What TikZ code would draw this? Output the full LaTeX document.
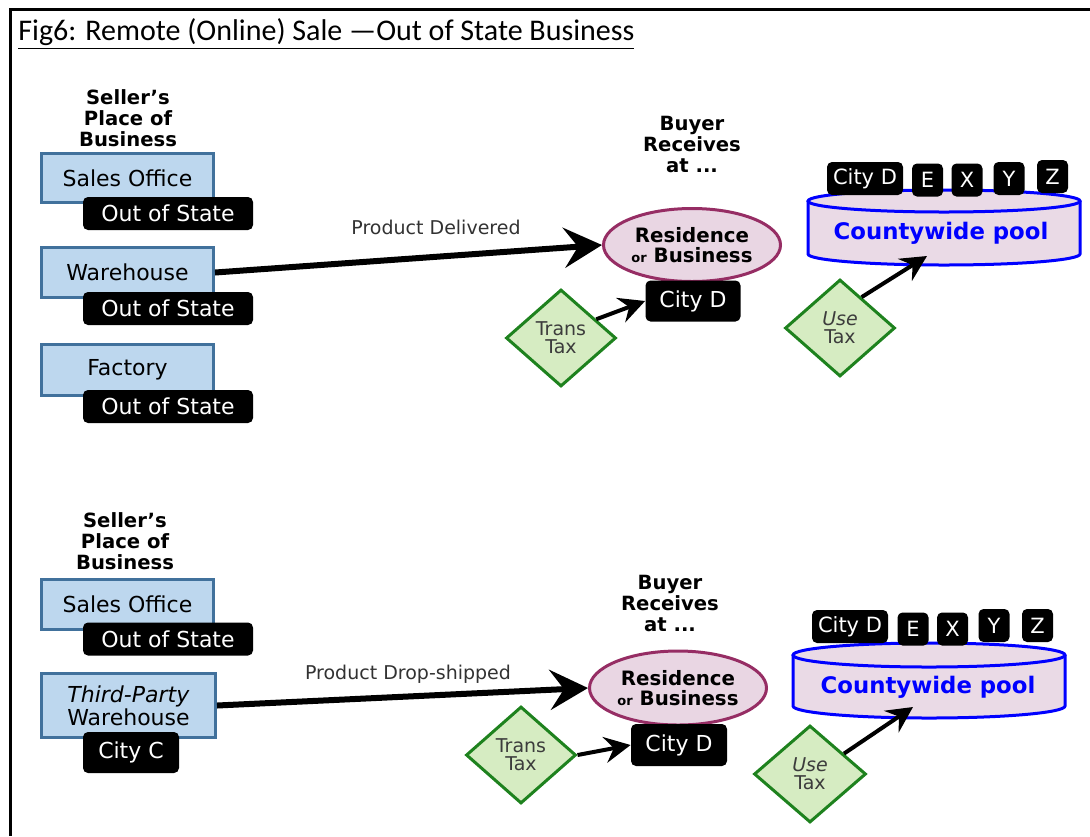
\documentclass[tikz,border=0pt]{standalone}
\usepackage{fontspec}
\setmainfont{DejaVu Sans}
\newfontfamily\titlefont{Carlito}
\usetikzlibrary{shapes.geometric,arrows.meta}

\definecolor{placefill}{RGB}{189,215,238}
\definecolor{placeline}{RGB}{65,113,156}
\definecolor{homefill}{RGB}{233,214,227}
\definecolor{homeline}{RGB}{150,45,100}
\definecolor{taxfill}{RGB}{214,236,194}
\definecolor{taxline}{RGB}{30,130,30}
\definecolor{taxtext}{RGB}{60,60,60}
\definecolor{poolfill}{RGB}{234,218,230}
\definecolor{poolline}{RGB}{0,0,255}
\definecolor{flowtext}{RGB}{50,50,50}

\tikzset{
  place/.style={draw=placeline, fill=placefill, line width=1.5pt, minimum width=86pt,
    minimum height=24.5pt, inner sep=0pt, align=center, font=\fontsize{11}{11.5}\selectfont},
  tag/.style={fill=black, text=white, rounded corners=2.5pt, inner sep=0pt,
    minimum height=16.5pt, font=\fontsize{11}{12}\selectfont},
  citytag/.style={tag, minimum width=15.5pt, minimum height=16.5pt, font=\fontsize{10.5}{12}\selectfont},
  heading/.style={align=center, font=\bfseries\fontsize{9.8}{10.5}\selectfont},
  home/.style={ellipse, draw=homeline, fill=homefill, line width=1.5pt, minimum width=88.5pt,
    minimum height=36.5pt, inner sep=0pt, align=center, font=\bfseries\fontsize{9.9}{10}\selectfont},
  tax/.style={diamond, draw=taxline, fill=taxfill, line width=1.5pt, minimum width=55pt,
    minimum height=48.5pt, inner sep=0pt, align=center, text=taxtext, font=\fontsize{9.5}{9}\selectfont},
  flow/.style={line width=3pt, -{Stealth[length=19pt, width=20pt, inset=7pt]}},
  levy/.style={line width=2pt, -{Stealth[length=13pt, width=13pt, inset=4.5pt]}},
  flowlabel/.style={text=flowtext, font=\fontsize{9.5}{10}\selectfont},
  pooltext/.style={text=poolline, font=\bfseries\fontsize{11.4}{12}\selectfont},
  barrel/.style={draw=poolline, fill=poolfill, line width=1.5pt}
}

\begin{document}
\begin{tikzpicture}[x=0.5pt, y=-0.5pt]
    \useasboundingbox (0,0) rectangle (1090,836);
    \draw[line width=1.5pt] (1090,9) -- (10,9) -- (10,836);
    \node[anchor=base west, inner sep=0pt, font=\titlefont\fontsize{15}{16}\selectfont] (title) at (18,40)
      {\underline{Fig6: Remote (Online) Sale \textemdash Out of State Business}};

    % upper case: seller out of state
    \node[heading] (seller1) at (128,118) {Seller’s\\Place of\\Business};
    \node[place] (sales1) at (127.5,178) {Sales Office};
    \node[tag, minimum width=85pt] (outA1) at (168,213.5) {Out of State};
    \node[place, minimum height=25pt] (ware1) at (127.5,272.5) {Warehouse};
    \node[tag, minimum width=85pt] (outB1) at (168,308.5) {Out of State};
    \node[place, minimum height=25.5pt] (fact1) at (127.5,370) {Factory};
    \node[tag, minimum width=85pt] (outC1) at (168,406.5) {Out of State};

    \node[heading] (buyer1) at (692,144) {Buyer\\Receives\\at ...};
    \node[home] (res1) at (692,245) {Residence\\{\fontsize{6.5}{7}\selectfont or} Business};
    \node[tag, minimum width=47.5pt, minimum height=20.5pt] (cityD1) at (693,301) {City D};
    \node[tax] (trans1) at (561,338) {Trans\\Tax};
    \node[tax] (use1) at (840,328) {\textit{Use}\\Tax};

    \fill[poolfill] (808,201) -- (808,254) arc[start angle=180, end angle=0, x radius=136, y radius=11] -- (1080,201) -- cycle;
    \draw[poolline, line width=1.5pt] (808,201) -- (808,254) arc[start angle=180, end angle=0, x radius=136, y radius=11] -- (1080,201);
    \draw[barrel] (944,201) ellipse[x radius=136, y radius=11];
    \node[pooltext] (pool1) at (941,233) {Countywide pool};
    \coordinate (pool1in) at (927,256);

    \node[citytag, minimum width=38pt] (cD1) at (865,178.5) {City D};
    \foreach \c/\x/\y in {E/927.5/180, X/967/180, Y/1009/178.5, Z/1052.5/176.5}
      \node[citytag] (c\c1) at (\x,\y) {\c};

    \draw[flow] (ware1.east) -- (res1.west);
    \node[flowlabel] (deliv1) at (436,227) {Product Delivered};
    \draw[levy] (trans1.28) -- (cityD1.west);
    \draw[levy] (use1.55) -- (pool1in);

    % lower case: drop-shipped from a third party
    \node[heading] (seller2) at (125,541) {Seller’s\\Place of\\Business};
    \node[place, minimum height=25pt] (sales2) at (127.5,604) {Sales Office};
    \node[tag, minimum width=85pt] (outA2) at (168,639) {Out of State};
    \node[place, minimum width=87pt, minimum height=32pt] (third2) at (128.5,705.5) {\textit{Third-Party}\\Warehouse};
    \node[tag, minimum width=48pt, minimum height=20.5pt] (cityC2) at (131,752.5) {City C};

    \node[heading] (buyer2) at (670,603) {Buyer\\Receives\\at ...};
    \node[home, minimum height=37pt] (res2) at (678,688) {Residence\\{\fontsize{6.5}{7}\selectfont or} Business};
    \node[tag, minimum width=48pt, minimum height=21pt] (cityD2) at (679,745) {City D};
    \node[tax] (trans2) at (521,755) {Trans\\Tax};
    \node[tax, minimum width=56pt] (use2) at (810,774) {\textit{Use}\\Tax};

    \fill[poolfill] (793,655) -- (793,706) arc[start angle=180, end angle=0, x radius=136, y radius=12] -- (1065,655) -- cycle;
    \draw[poolline, line width=1.5pt] (793,655) -- (793,706) arc[start angle=180, end angle=0, x radius=136, y radius=12] -- (1065,655);
    \draw[barrel] (929,655) ellipse[x radius=136, y radius=12];
    \node[pooltext] (pool2) at (928,687) {Countywide pool};
    \coordinate (pool2in) at (913,707);

    \node[citytag, minimum width=38pt] (cD2) at (850,626.5) {City D};
    \foreach \c/\x/\y in {E/913/629, X/952.5/629, Y/994/625.5, Z/1037.5/625.5}
      \node[citytag] (c\c2) at (\x,\y) {\c};

    \draw[flow] (third2.east) -- (res2.west);
    \node[flowlabel] (drop2) at (408,674) {Product Drop-shipped};
    \draw[levy] (trans2.east) -- (cityD2.west);
    \draw[levy] (use2.31) -- (pool2in);
\end{tikzpicture}
\end{document}
